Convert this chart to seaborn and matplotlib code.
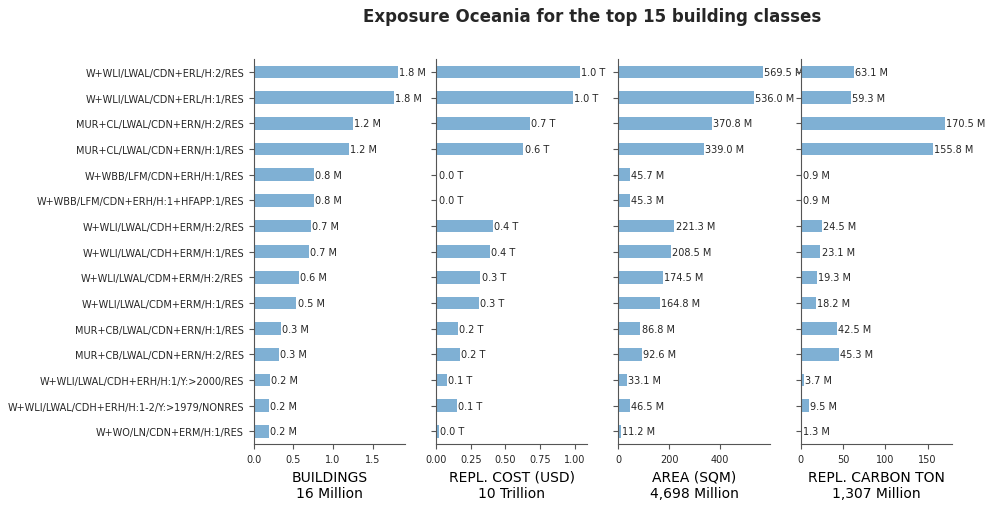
import matplotlib
matplotlib.use("Agg")
import matplotlib.pyplot as plt
import matplotlib.font_manager as fm
import seaborn as sns
import pandas as pd

categories = [
    "W+WLI/LWAL/CDN+ERL/H:2/RES",
    "W+WLI/LWAL/CDN+ERL/H:1/RES",
    "MUR+CL/LWAL/CDN+ERN/H:2/RES",
    "MUR+CL/LWAL/CDN+ERN/H:1/RES",
    "W+WBB/LFM/CDN+ERH/H:1/RES",
    "W+WBB/LFM/CDN+ERH/H:1+HFAPP:1/RES",
    "W+WLI/LWAL/CDH+ERM/H:2/RES",
    "W+WLI/LWAL/CDH+ERM/H:1/RES",
    "W+WLI/LWAL/CDM+ERM/H:2/RES",
    "W+WLI/LWAL/CDM+ERM/H:1/RES",
    "MUR+CB/LWAL/CDN+ERN/H:1/RES",
    "MUR+CB/LWAL/CDN+ERN/H:2/RES",
    "W+WLI/LWAL/CDH+ERH/H:1/Y:>2000/RES",
    "W+WLI/LWAL/CDH+ERH/H:1-2/Y:>1979/NONRES",
    "W+WO/LN/CDN+ERM/H:1/RES",
]

buildings_m = [1.82, 1.77, 1.25, 1.20, 0.76, 0.76, 0.72, 0.70, 0.57, 0.54, 0.34, 0.32, 0.20, 0.19, 0.19]
cost_t = [1.04, 0.985, 0.68, 0.63, 0.01, 0.01, 0.41, 0.39, 0.32, 0.31, 0.16, 0.17, 0.08, 0.15, 0.02]
area_m = [569.5, 536.0, 370.8, 339.0, 45.7, 45.3, 221.3, 208.5, 174.5, 164.8, 86.8, 92.6, 33.1, 46.5, 11.2]
carbon_m = [63.1, 59.3, 170.5, 155.8, 0.9, 0.9, 24.5, 23.1, 19.3, 18.2, 42.5, 45.3, 3.7, 9.5, 1.3]

panels = [
    (buildings_m, "{:.1f} M", "BUILDINGS\n16 Million"),
    (cost_t, "{:.1f} T", "REPL. COST (USD)\n10 Trillion"),
    (area_m, "{:.1f} M", "AREA (SQM)\n4,698 Million"),
    (carbon_m, "{:.1f} M", "REPL. CARBON TON\n1,307 Million"),
]

sns.set_style("ticks")
plt.rcParams["font.family"] = ["DejaVu Sans"]
names = {f.name for f in fm.fontManager.ttflist}
narrow = "Liberation Sans Narrow" if "Liberation Sans Narrow" in names else "DejaVu Sans"

bar_color = "#7fb0d4"
text_color = "#262626"
spine_color = "#555555"

fig, axes = plt.subplots(1, 4, figsize=(9.95, 5.1), dpi=100)
fig.subplots_adjust(left=0.255, right=0.957, top=0.882, bottom=0.127, wspace=0.205)

for i, (ax, (vals, fmt, xlabel)) in enumerate(zip(axes, panels)):
    df = pd.DataFrame({"cat": categories, "val": vals})
    sns.barplot(data=df, x="val", y="cat", ax=ax, color=bar_color, width=0.5,
                saturation=1, orient="h", linewidth=0, edgecolor="none")
    ax.set_xlim(0, max(vals) * 1.05)
    ax.bar_label(ax.containers[0], labels=[fmt.format(v) for v in vals],
                 fontsize=7, color=text_color, padding=0.8)
    ax.set_ylabel("")
    ax.set_xlabel(xlabel, fontsize=10, color="black", family=narrow)
    for s in ["top", "right"]:
        ax.spines[s].set_visible(False)
    for s in ["left", "bottom"]:
        ax.spines[s].set_color(spine_color)
    ax.tick_params(axis="x", labelsize=7, colors=spine_color, labelcolor=text_color)
    ax.tick_params(axis="y", labelsize=7, colors=spine_color, labelcolor=text_color)
    if i > 0:
        ax.set_yticklabels([])

axes[0].set_xticks([0, 0.5, 1.0, 1.5])
axes[0].set_xticklabels(["0.0", "0.5", "1.0", "1.5"], family=narrow)
axes[1].set_xticks([0, 0.25, 0.5, 0.75, 1.0])
axes[1].set_xticklabels(["0.00", "0.25", "0.50", "0.75", "1.00"], family=narrow)
axes[2].set_xticks([0, 200, 400])
axes[2].set_xticklabels(["0", "200", "400"], family=narrow)
axes[3].set_xticks([0, 50, 100, 150])
axes[3].set_xticklabels(["0", "50", "100", "150"], family=narrow)

fig.text(0.595, 0.966, "Exposure Oceania for the top 15 building classes",
         ha="center", va="center", fontsize=12, fontweight="bold", color=text_color)

fig.savefig("out.png", dpi=100)
